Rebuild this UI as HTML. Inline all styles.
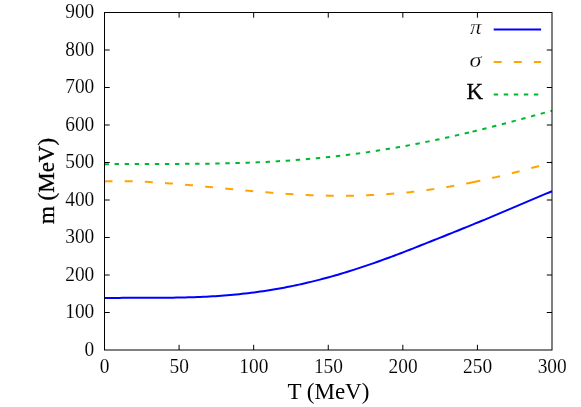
<!DOCTYPE html>
<html>
<head>
<meta charset="utf-8">
<title>Meson masses vs temperature</title>
<style>
  html, body { margin: 0; padding: 0; background: #ffffff; }
  body { width: 581px; height: 407px; overflow: hidden; font-family: "Liberation Serif", serif; }
  svg { display: block; }
  text { font-family: "Liberation Serif", serif; fill: #000; }
  .tk { font-size: 20.9px; stroke: #fff; stroke-width: 0.1px; }
  .ax { font-size: 23px; }
  .gk { font-size: 21px; font-style: italic; stroke: #fff; stroke-width: 0.25px; }
</style>
</head>
<body>
<svg width="581" height="407" viewBox="0 0 581 407">
  <rect x="0" y="0" width="581" height="407" fill="#ffffff"/>

  <!-- curves -->
  <g fill="none" stroke-width="2" stroke-linejoin="round">
    <path stroke="#00b830" stroke-dasharray="4.4 5.67" d="M104.5,164.18 L107.5,164.14 L110.5,164.11 L113.5,164.08 L116.5,164.05 L119.5,164.03 L122.5,164.01 L125.4,163.99 L128.4,163.98 L131.4,163.96 L134.4,163.96 L137.4,163.95 L140.4,163.94 L143.4,163.94 L146.4,163.93 L149.4,163.93 L152.4,163.93 L155.4,163.93 L158.4,163.92 L161.3,163.92 L164.3,163.92 L167.3,163.91 L170.3,163.91 L173.3,163.90 L176.3,163.89 L179.3,163.88 L182.3,163.87 L185.3,163.86 L188.3,163.84 L191.3,163.82 L194.3,163.80 L197.2,163.77 L200.2,163.74 L203.2,163.71 L206.2,163.67 L209.2,163.63 L212.2,163.59 L215.2,163.54 L218.2,163.49 L221.2,163.43 L224.2,163.37 L227.2,163.30 L230.2,163.23 L233.2,163.15 L236.1,163.07 L239.1,162.98 L242.1,162.88 L245.1,162.78 L248.1,162.68 L251.1,162.56 L254.1,162.44 L257.1,162.32 L260.1,162.18 L263.1,162.04 L266.1,161.90 L269.1,161.74 L272.0,161.58 L275.0,161.41 L278.0,161.24 L281.0,161.05 L284.0,160.86 L287.0,160.66 L290.0,160.46 L293.0,160.24 L296.0,160.02 L299.0,159.79 L302.0,159.55 L305.0,159.30 L307.9,159.05 L310.9,158.78 L313.9,158.51 L316.9,158.23 L319.9,157.94 L322.9,157.64 L325.9,157.34 L328.9,157.02 L331.9,156.70 L334.9,156.37 L337.9,156.02 L340.9,155.67 L343.8,155.31 L346.8,154.95 L349.8,154.57 L352.8,154.18 L355.8,153.79 L358.8,153.38 L361.8,152.97 L364.8,152.55 L367.8,152.12 L370.8,151.68 L373.8,151.23 L376.8,150.77 L379.8,150.30 L382.7,149.82 L385.7,149.34 L388.7,148.84 L391.7,148.34 L394.7,147.83 L397.7,147.31 L400.7,146.78 L403.7,146.24 L406.7,145.70 L409.7,145.14 L412.7,144.58 L415.7,144.00 L418.6,143.42 L421.6,142.83 L424.6,142.24 L427.6,141.63 L430.6,141.02 L433.6,140.39 L436.6,139.77 L439.6,139.13 L442.6,138.48 L445.6,137.83 L448.6,137.17 L451.6,136.50 L454.5,135.82 L457.5,135.14 L460.5,134.45 L463.5,133.75 L466.5,133.05 L469.5,132.34 L472.5,131.62 M472.5,131.62 L475.4,130.91 L478.4,130.19 L481.3,129.47 L484.3,128.74 L487.2,128.00 L490.2,127.26 L493.1,126.51 L496.1,125.76 L499.0,125.00 L501.9,124.24 L504.9,123.47 L507.8,122.70 L510.8,121.92 L513.7,121.14 L516.7,120.36 L519.6,119.57 L522.6,118.78 L525.5,117.98 L528.4,117.18 L531.4,116.38 L534.3,115.57 L537.3,114.76 L540.2,113.95 L543.2,113.14 L546.1,112.32 L549.1,111.50 L552.0,110.69"/>
    <path stroke="#ffa500" stroke-dasharray="8 12.17" d="M104.5,181.38 L107.5,181.29 L110.5,181.21 L113.5,181.16 L116.5,181.13 L119.5,181.12 L122.5,181.13 L125.4,181.16 L128.4,181.21 L131.4,181.27 L134.4,181.35 L137.4,181.45 L140.4,181.56 L143.4,181.68 L146.4,181.83 L149.4,181.98 L152.4,182.15 L155.4,182.32 L158.4,182.51 L161.3,182.71 L164.3,182.93 L167.3,183.15 L170.3,183.38 L173.3,183.61 L176.3,183.86 L179.3,184.11 L182.3,184.37 L185.3,184.64 L188.3,184.91 L191.3,185.19 L194.3,185.47 L197.2,185.76 L200.2,186.05 L203.2,186.34 L206.2,186.63 L209.2,186.93 L212.2,187.23 L215.2,187.53 L218.2,187.83 L221.2,188.13 L224.2,188.43 L227.2,188.73 L230.2,189.03 L233.2,189.32 L236.1,189.62 L239.1,189.91 L242.1,190.20 L245.1,190.48 L248.1,190.76 L251.1,191.04 L254.1,191.31 L257.1,191.58 L260.1,191.84 L263.1,192.10 L266.1,192.35 L269.1,192.59 L272.0,192.83 L275.0,193.06 L278.0,193.28 L281.0,193.50 L284.0,193.71 L287.0,193.91 L290.0,194.10 L293.0,194.28 L296.0,194.45 L299.0,194.61 L302.0,194.77 L305.0,194.91 L307.9,195.04 L310.9,195.17 L313.9,195.28 L316.9,195.38 L319.9,195.47 L322.9,195.55 L325.9,195.61 L328.9,195.67 L331.9,195.71 L334.9,195.74 L337.9,195.76 L340.9,195.76 L343.8,195.76 L346.8,195.74 L349.8,195.70 L352.8,195.66 L355.8,195.60 L358.8,195.53 L361.8,195.44 L364.8,195.34 L367.8,195.23 L370.8,195.10 L373.8,194.96 L376.8,194.80 L379.8,194.63 L382.7,194.45 L385.7,194.25 L388.7,194.04 L391.7,193.81 L394.7,193.57 L397.7,193.31 L400.7,193.04 L403.7,192.76 L406.7,192.46 L409.7,192.15 L412.7,191.82 L415.7,191.48 L418.6,191.12 L421.6,190.75 L424.6,190.36 L427.6,189.96 L430.6,189.55 L433.6,189.12 L436.6,188.68 L439.6,188.22 L442.6,187.75 L445.6,187.27 L448.6,186.77 L451.6,186.26 L454.5,185.73 L457.5,185.19 L460.5,184.64 L463.5,184.08 L466.5,183.50 L469.5,182.91 L472.5,182.30 M472.5,182.30 L475.4,181.70 L478.4,181.08 L481.3,180.45 L484.3,179.80 L487.2,179.15 L490.2,178.48 L493.1,177.81 L496.1,177.12 L499.0,176.42 L501.9,175.71 L504.9,174.99 L507.8,174.26 L510.8,173.52 L513.7,172.77 L516.7,172.02 L519.6,171.25 L522.6,170.47 L525.5,169.69 L528.4,168.89 L531.4,168.09 L534.3,167.28 L537.3,166.47 L540.2,165.65 L543.2,164.82 L546.1,163.98 L549.1,163.14 L552.0,162.29"/>
    <path stroke="#0000ff" d="M104.5,298.04 L107.5,297.99 L110.5,297.95 L113.5,297.92 L116.5,297.90 L119.5,297.88 L122.5,297.86 L125.4,297.85 L128.4,297.84 L131.4,297.84 L134.4,297.84 L137.4,297.84 L140.4,297.84 L143.4,297.84 L146.4,297.83 L149.4,297.83 L152.4,297.82 L155.4,297.81 L158.4,297.80 L161.3,297.79 L164.3,297.76 L167.3,297.74 L170.3,297.70 L173.3,297.66 L176.3,297.62 L179.3,297.56 L182.3,297.50 L185.3,297.43 L188.3,297.35 L191.3,297.26 L194.3,297.16 L197.2,297.05 L200.2,296.93 L203.2,296.79 L206.2,296.65 L209.2,296.49 L212.2,296.32 L215.2,296.14 L218.2,295.94 L221.2,295.73 L224.2,295.50 L227.2,295.26 L230.2,295.01 L233.2,294.74 L236.1,294.46 L239.1,294.16 L242.1,293.84 L245.1,293.51 L248.1,293.16 L251.1,292.80 L254.1,292.42 L257.1,292.02 L260.1,291.60 L263.1,291.17 L266.1,290.72 L269.1,290.26 L272.0,289.77 L275.0,289.27 L278.0,288.75 L281.0,288.22 L284.0,287.66 L287.0,287.09 L290.0,286.50 L293.0,285.89 L296.0,285.27 L299.0,284.62 L302.0,283.96 L305.0,283.28 L307.9,282.58 L310.9,281.87 L313.9,281.14 L316.9,280.39 L319.9,279.62 L322.9,278.84 L325.9,278.04 L328.9,277.22 L331.9,276.39 L334.9,275.53 L337.9,274.67 L340.9,273.78 L343.8,272.89 L346.8,271.97 L349.8,271.04 L352.8,270.10 L355.8,269.14 L358.8,268.16 L361.8,267.17 L364.8,266.17 L367.8,265.16 L370.8,264.13 L373.8,263.09 L376.8,262.03 L379.8,260.97 L382.7,259.89 L385.7,258.80 L388.7,257.70 L391.7,256.59 L394.7,255.47 L397.7,254.35 L400.7,253.21 L403.7,252.06 L406.7,250.91 L409.7,249.75 L412.7,248.59 L415.7,247.41 L418.6,246.24 L421.6,245.05 L424.6,243.87 L427.6,242.68 L430.6,241.49 L433.6,240.29 L436.6,239.10 L439.6,237.90 L442.6,236.70 L445.6,235.50 L448.6,234.30 L451.6,233.10 L454.5,231.90 L457.5,230.70 L460.5,229.49 L463.5,228.29 L466.5,227.08 L469.5,225.87 L472.5,224.65 M472.5,224.65 L475.4,223.45 L478.4,222.25 L481.3,221.04 L484.3,219.83 L487.2,218.61 L490.2,217.39 L493.1,216.16 L496.1,214.92 L499.0,213.68 L501.9,212.44 L504.9,211.19 L507.8,209.93 L510.8,208.68 L513.7,207.42 L516.7,206.16 L519.6,204.89 L522.6,203.63 L525.5,202.37 L528.4,201.11 L531.4,199.85 L534.3,198.60 L537.3,197.35 L540.2,196.12 L543.2,194.89 L546.1,193.67 L549.1,192.46 L552.0,191.27"/>
  </g>

  <!-- legend samples -->
  <g fill="none" stroke-width="2">
    <path stroke="#0000ff" d="M493.7,29.45H541.1"/>
    <path stroke="#ffa500" stroke-dasharray="8 12.1" d="M493.7,61.9H541.1"/>
    <path stroke="#00b830" stroke-dasharray="4.4 5.65" d="M493.7,94.55H541.1"/>
  </g>

  <g style="will-change: opacity; filter: opacity(1)">
  <!-- legend labels -->
  <text class="gk" x="470.0" y="34.0" textLength="11.55" lengthAdjust="spacingAndGlyphs">π</text>
  <text class="gk" x="469.4" y="66.6" textLength="12.0" lengthAdjust="spacingAndGlyphs">σ</text>
  <text class="ax" x="466.6" y="98.8" stroke="#000" stroke-width="0.3">K</text>

  <!-- frame and ticks -->
  <g fill="none" stroke="#000" stroke-width="1">
    <path d="M104.5,312.50h5.2 M552.0,312.50h-5.2 M104.5,275.00h5.2 M552.0,275.00h-5.2 M104.5,237.50h5.2 M552.0,237.50h-5.2 M104.5,200.00h5.2 M552.0,200.00h-5.2 M104.5,162.50h5.2 M552.0,162.50h-5.2 M104.5,125.00h5.2 M552.0,125.00h-5.2 M104.5,87.50h5.2 M552.0,87.50h-5.2 M104.5,50.00h5.2 M552.0,50.00h-5.2 M179.08,350.0v-5.2 M179.08,12.5v5.2 M253.67,350.0v-5.2 M253.67,12.5v5.2 M328.25,350.0v-5.2 M328.25,12.5v5.2 M402.83,350.0v-5.2 M402.83,12.5v5.2 M477.42,350.0v-5.2 M477.42,12.5v5.2"/>
    <rect x="104.5" y="12.5" width="447.50" height="337.50"/>
  </g>

  <!-- tick labels -->
    <text class="tk" text-anchor="end" transform="translate(94.3,355.70) scale(0.928,1)">0</text>
  <text class="tk" text-anchor="end" transform="translate(94.3,318.20) scale(0.928,1)">100</text>
  <text class="tk" text-anchor="end" transform="translate(94.3,280.70) scale(0.928,1)">200</text>
  <text class="tk" text-anchor="end" transform="translate(94.3,243.20) scale(0.928,1)">300</text>
  <text class="tk" text-anchor="end" transform="translate(94.3,205.70) scale(0.928,1)">400</text>
  <text class="tk" text-anchor="end" transform="translate(94.3,168.20) scale(0.928,1)">500</text>
  <text class="tk" text-anchor="end" transform="translate(94.3,130.70) scale(0.928,1)">600</text>
  <text class="tk" text-anchor="end" transform="translate(94.3,93.20) scale(0.928,1)">700</text>
  <text class="tk" text-anchor="end" transform="translate(94.3,55.70) scale(0.928,1)">800</text>
  <text class="tk" text-anchor="end" transform="translate(94.3,18.20) scale(0.928,1)">900</text>
    <text class="tk" text-anchor="middle" transform="translate(104.70,372.5) scale(0.928,1)">0</text>
  <text class="tk" text-anchor="middle" transform="translate(179.28,372.5) scale(0.928,1)">50</text>
  <text class="tk" text-anchor="middle" transform="translate(253.87,372.5) scale(0.928,1)">100</text>
  <text class="tk" text-anchor="middle" transform="translate(328.45,372.5) scale(0.928,1)">150</text>
  <text class="tk" text-anchor="middle" transform="translate(403.03,372.5) scale(0.928,1)">200</text>
  <text class="tk" text-anchor="middle" transform="translate(477.62,372.5) scale(0.928,1)">250</text>
  <text class="tk" text-anchor="middle" transform="translate(552.20,372.5) scale(0.928,1)">300</text>

  <!-- axis titles -->
  <text class="ax" text-anchor="middle" x="328.4" y="398.7">T (MeV)</text>
  <text class="ax" text-anchor="middle" stroke="#000" stroke-width="0.3" transform="translate(54.4,181) rotate(-90)">m (MeV)</text>
  </g>
</svg>
</body>
</html>
